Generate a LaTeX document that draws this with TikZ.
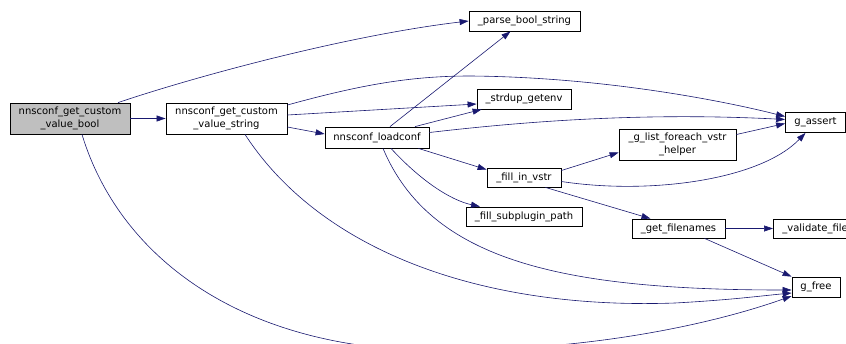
\documentclass[tikz,border=0pt]{standalone}
\usepackage{fontspec}
\setmainfont{DejaVu Sans}
\usetikzlibrary{arrows.meta}
\definecolor{edgeblue}{RGB}{25,25,112}
\tikzset{
  fnbox/.style={draw=black, fill=white, line width=0.8pt, inner sep=0pt, align=center,
    font=\fontsize{10}{13}\selectfont},
  callee/.style={draw=edgeblue, line width=0.6pt, -{Triangle[length=9pt,width=6pt]}},
}
\begin{document}
\begin{tikzpicture}
% call graph, pixel units (y grows downward)
\begin{scope}[x=1pt, y=-1pt]
  \useasboundingbox (0,0) rectangle (846,343);
  \clip (0,0) rectangle (846,343);
  % Functions
  \node[fnbox, fill=black!25, minimum width=120pt, minimum height=31pt] (bool) at (70,118.5) {nnsconf\_get\_custom\\\_value\_bool};
  \node[fnbox, minimum width=121pt, minimum height=31pt] (string) at (226.5,118.5) {nnsconf\_get\_custom\\\_value\_string};
  \node[fnbox, minimum width=104pt, minimum height=21pt] (loadconf) at (377,137.5) {nnsconf\_loadconf};
  \node[fnbox, minimum width=111pt, minimum height=20pt] (parse) at (524.5,21) {\_parse\_bool\_string};
  \node[fnbox, minimum width=94pt, minimum height=20pt] (strdup) at (524,99) {\_strdup\_getenv};
  \node[fnbox, minimum width=60pt, minimum height=20pt] (assert) at (815.5,122.5) {g\_assert};
  \node[fnbox, minimum width=117pt, minimum height=31pt] (glist) at (677.5,144.5) {\_g\_list\_foreach\_vstr\\\_helper};
  \node[fnbox, minimum width=74pt, minimum height=19pt] (fillin) at (524,177.5) {\_fill\_in\_vstr};
  \node[fnbox, minimum width=116pt, minimum height=19pt] (subplugin) at (524,216.5) {\_fill\_subplugin\_path};
  \node[fnbox, minimum width=93pt, minimum height=19pt] (getfn) at (678.5,228.5) {\_get\_filenames};
  \node[fnbox, anchor=west, inner xsep=9pt, minimum height=19pt] (validate) at (773,228.5) {\_validate\_file};
  \node[fnbox, minimum width=48pt, minimum height=20pt] (gfree) at (816,287) {g\_free};
  % Calls from nnsconf_get_custom_value_bool
  \draw[callee] (bool) -- (string);
  \draw[callee] ([xshift=48pt]bool.north) .. controls (200,75) and (350,35) .. (parse.west);
  \draw[callee] ([xshift=12pt]bool.south) .. controls (120,260) and (250,360) .. (470,350)
    .. controls (620,347) and (730,318) .. ([yshift=-9pt]gfree.west);
  % Calls from nnsconf_get_custom_value_string
  \draw[callee] ([yshift=3.5pt]string.east) -- ([yshift=-5pt]strdup.west);
  \draw[callee] ([yshift=-8.5pt]string.east) -- ([yshift=3.5pt]loadconf.west);
  \draw[callee] ([yshift=13.5pt]string.east) .. controls (360,85) and (410,76) .. (470,76)
    .. controls (600,77) and (720,100) .. ([yshift=6pt]assert.west);
  \draw[callee] ([xshift=18.5pt]string.south) .. controls (320,250) and (480,310) .. (675,303)
    .. controls (730,300) and (760,296) .. ([yshift=-6pt]gfree.west);
  % Calls from nnsconf_loadconf
  \draw[callee] ([xshift=13pt]loadconf.north) -- ([xshift=-14pt]parse.south);
  \draw[callee] ([xshift=38pt]loadconf.north) -- ([xshift=5pt]strdup.south west);
  \draw[callee] ([yshift=5pt]loadconf.east) .. controls (520,122) and (640,112) .. ([yshift=3pt]assert.west);
  \draw[callee] ([xshift=-11pt]loadconf.south east) -- ([yshift=-2pt]fillin.north west);
  \draw[callee] ([xshift=14pt]loadconf.south) .. controls (420,180) and (450,200) .. ([xshift=-44pt]subplugin.north);
  \draw[callee] ([xshift=6pt]loadconf.south) .. controls (430,260) and (560,290) .. ([yshift=-3pt]gfree.west);
  % Calls from _fill_in_vstr and below
  \draw[callee] ([yshift=7pt]fillin.east) -- ([yshift=-8pt]glist.west);
  \draw[callee] ([yshift=-4pt]fillin.east) .. controls (650,195) and (760,180) .. ([xshift=-10pt]assert.south);
  \draw[callee] ([xshift=-16pt]fillin.south east) -- ([xshift=-28pt]getfn.north);
  \draw[callee] ([yshift=10pt]glist.east) -- ([yshift=-1pt]assert.west);
  \draw[callee] (getfn) -- (validate);
  \draw[callee] ([xshift=26pt]getfn.south) -- (gfree.north west);
\end{scope}
\end{tikzpicture}
\end{document}
